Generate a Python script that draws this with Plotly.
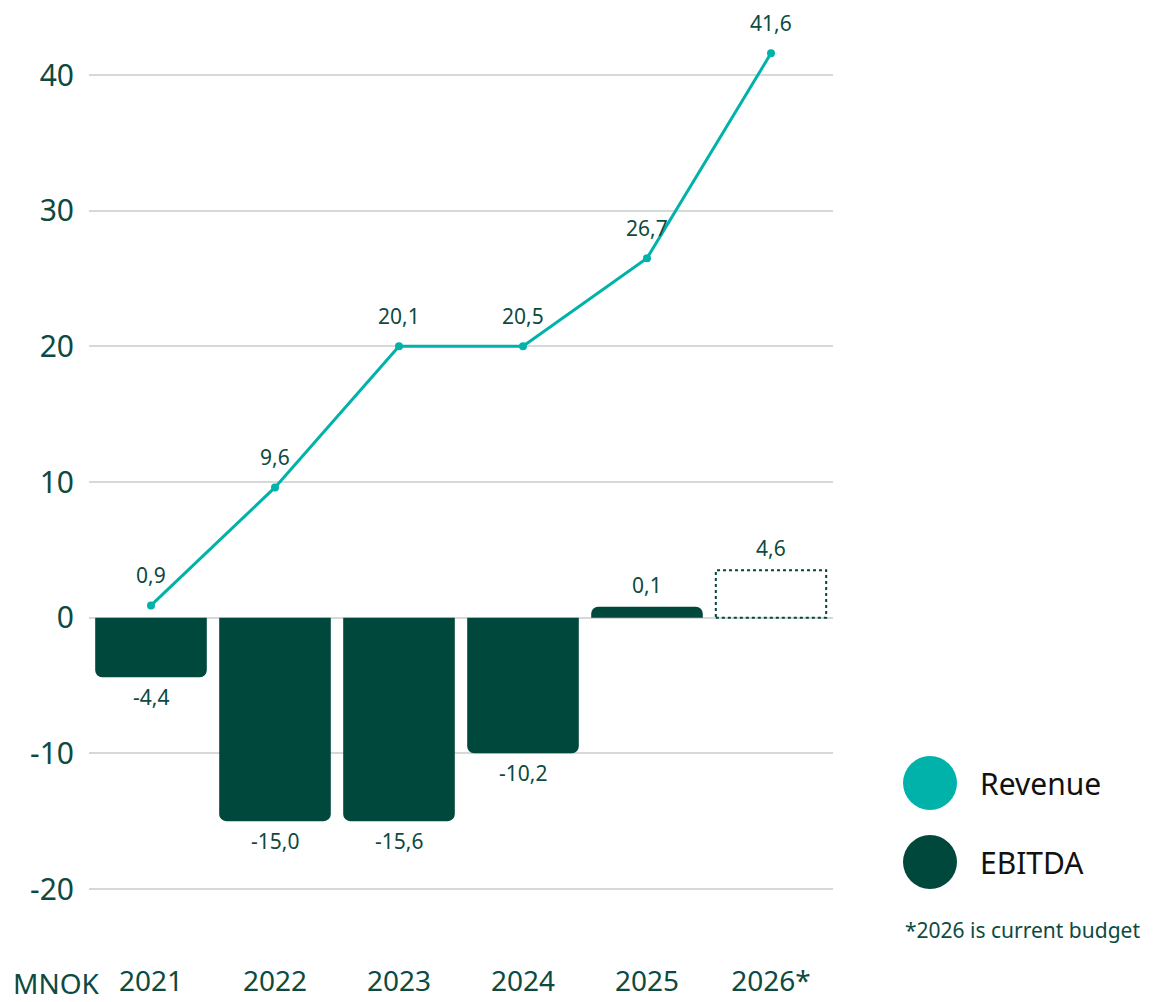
import plotly.graph_objects as go

# ---- data ----
years = ["2021", "2022", "2023", "2024", "2025", "2026*"]
revenue = [0.9, 9.6, 20.0, 20.0, 26.5, 41.6]           # drawn line positions
revenue_labels = ["0,9", "9,6", "20,1", "20,5", "26,7", "41,6"]
ebitda = [-4.4, -15.0, -15.0, -10.0, 0.8, None]          # drawn bar heights
ebitda_labels = ["-4,4", "-15,0", "-15,6", "-10,2", "0,1", "4,6"]
budget_year = "2026*"
budget_height = 3.5                                       # dotted budget box
ytick_vals = [-20, -10, 0, 10, 20, 30, 40]
ytick_text = ["-20", "-10", "0", "10", "20", "30", "40"]

TEAL = "#00B2A9"
DARK = "#00473C"
TXT = "#0D4A41"
GRID = "#D5D9D8"
FONT = "Noto Sans"

OFF = 8  # page body margin
W, H = 1169 - OFF, 1002 - OFF
PL, PR, PT, PB = 89 - OFF, 833 - OFF, 20 - OFF, 960 - OFF  # plot area in figure px
L, R, T, B = PL, W - PR, PT, H - PB
pw, ph = PR - PL, PB - PT


def px(x):  # screenshot x -> paper
    return (x - OFF - PL) / pw


def py(y):  # screenshot y -> paper
    return (PB - (y - OFF)) / ph


fig = go.Figure()

fig.add_trace(go.Bar(
    x=years, y=ebitda, marker=dict(color=DARK, line=dict(width=0)),
    hoverinfo="skip", showlegend=False,
))

fig.add_trace(go.Scatter(
    x=years, y=revenue, mode="lines+markers",
    line=dict(color=TEAL, width=3), marker=dict(color=TEAL, size=8),
    hoverinfo="skip", showlegend=False, cliponaxis=False,
))

# dotted outline for the budget year
bi = years.index(budget_year)
half = 0.445
fig.add_shape(type="rect", xref="x", yref="y",
              x0=bi - half, x1=bi + half, y0=0, y1=budget_height,
              line=dict(color=DARK, width=2, dash="dot"), fillcolor="rgba(0,0,0,0)")

annotations = []
for i, (v, t) in enumerate(zip(revenue, revenue_labels)):
    annotations.append(dict(x=i, y=v, xref="x", yref="y", text=t, showarrow=False,
                            yshift=30, font=dict(family=FONT, size=21, color=TXT)))
for i, (v, t) in enumerate(zip(ebitda, ebitda_labels)):
    val = v if v is not None else budget_height
    annotations.append(dict(x=i, y=val, xref="x", yref="y", text=t, showarrow=False,
                            yshift=(-20 if val < 0 else 22),
                            font=dict(family=FONT, size=21, color=TXT)))

annotations.append(dict(xref="paper", yref="paper", x=px(102), y=py(983),
                        xanchor="right", yanchor="middle", text="MNOK", showarrow=False,
                        font=dict(family=FONT, size=28, color=TXT)))

for name, color, cy in [("Revenue", TEAL, 783), ("EBITDA", DARK, 862)]:
    fig.add_shape(type="circle", xref="paper", yref="paper",
                  xsizemode="pixel", ysizemode="pixel",
                  xanchor=px(930), yanchor=py(cy), x0=-27, x1=27, y0=-27, y1=27,
                  fillcolor=color, line=dict(width=0))
    annotations.append(dict(xref="paper", yref="paper", x=px(978), y=py(cy),
                            xanchor="left", yanchor="middle", text=name, showarrow=False,
                            font=dict(family=FONT, size=30, color="#111111")))

annotations.append(dict(xref="paper", yref="paper", x=px(903), y=py(930),
                        xanchor="left", yanchor="middle", text="*2026 is current budget",
                        showarrow=False, font=dict(family=FONT, size=21, color=TXT)))

scale = (889 - 75) / 60.0
y_top = 40 + (75 - 20) / scale
y_bot = -20 - (960 - 889) / scale

fig.update_layout(
    width=W, height=H,
    margin=dict(l=L, r=R, t=T, b=B, autoexpand=False),
    paper_bgcolor="white", plot_bgcolor="white",
    bargap=0.1,
    font=dict(family=FONT, color=TXT),
    annotations=annotations,
    xaxis=dict(type="category", range=[-0.5, len(years) - 0.5], showgrid=False,
               showline=False, zeroline=False, ticks="", automargin=False,
               tickfont=dict(family=FONT, size=28, color=TXT), ticklabelstandoff=2),
    yaxis=dict(range=[y_bot, y_top], tickvals=ytick_vals, ticktext=ytick_text,
               showgrid=True, gridcolor=GRID, gridwidth=1.5,
               zeroline=True, zerolinecolor=GRID, zerolinewidth=1.5,
               showline=False, ticks="", automargin=False,
               tickfont=dict(family=FONT, size=30, color=TXT), ticklabelstandoff=14),
    barcornerradius=7,
)

fig.write_html("out.html")
